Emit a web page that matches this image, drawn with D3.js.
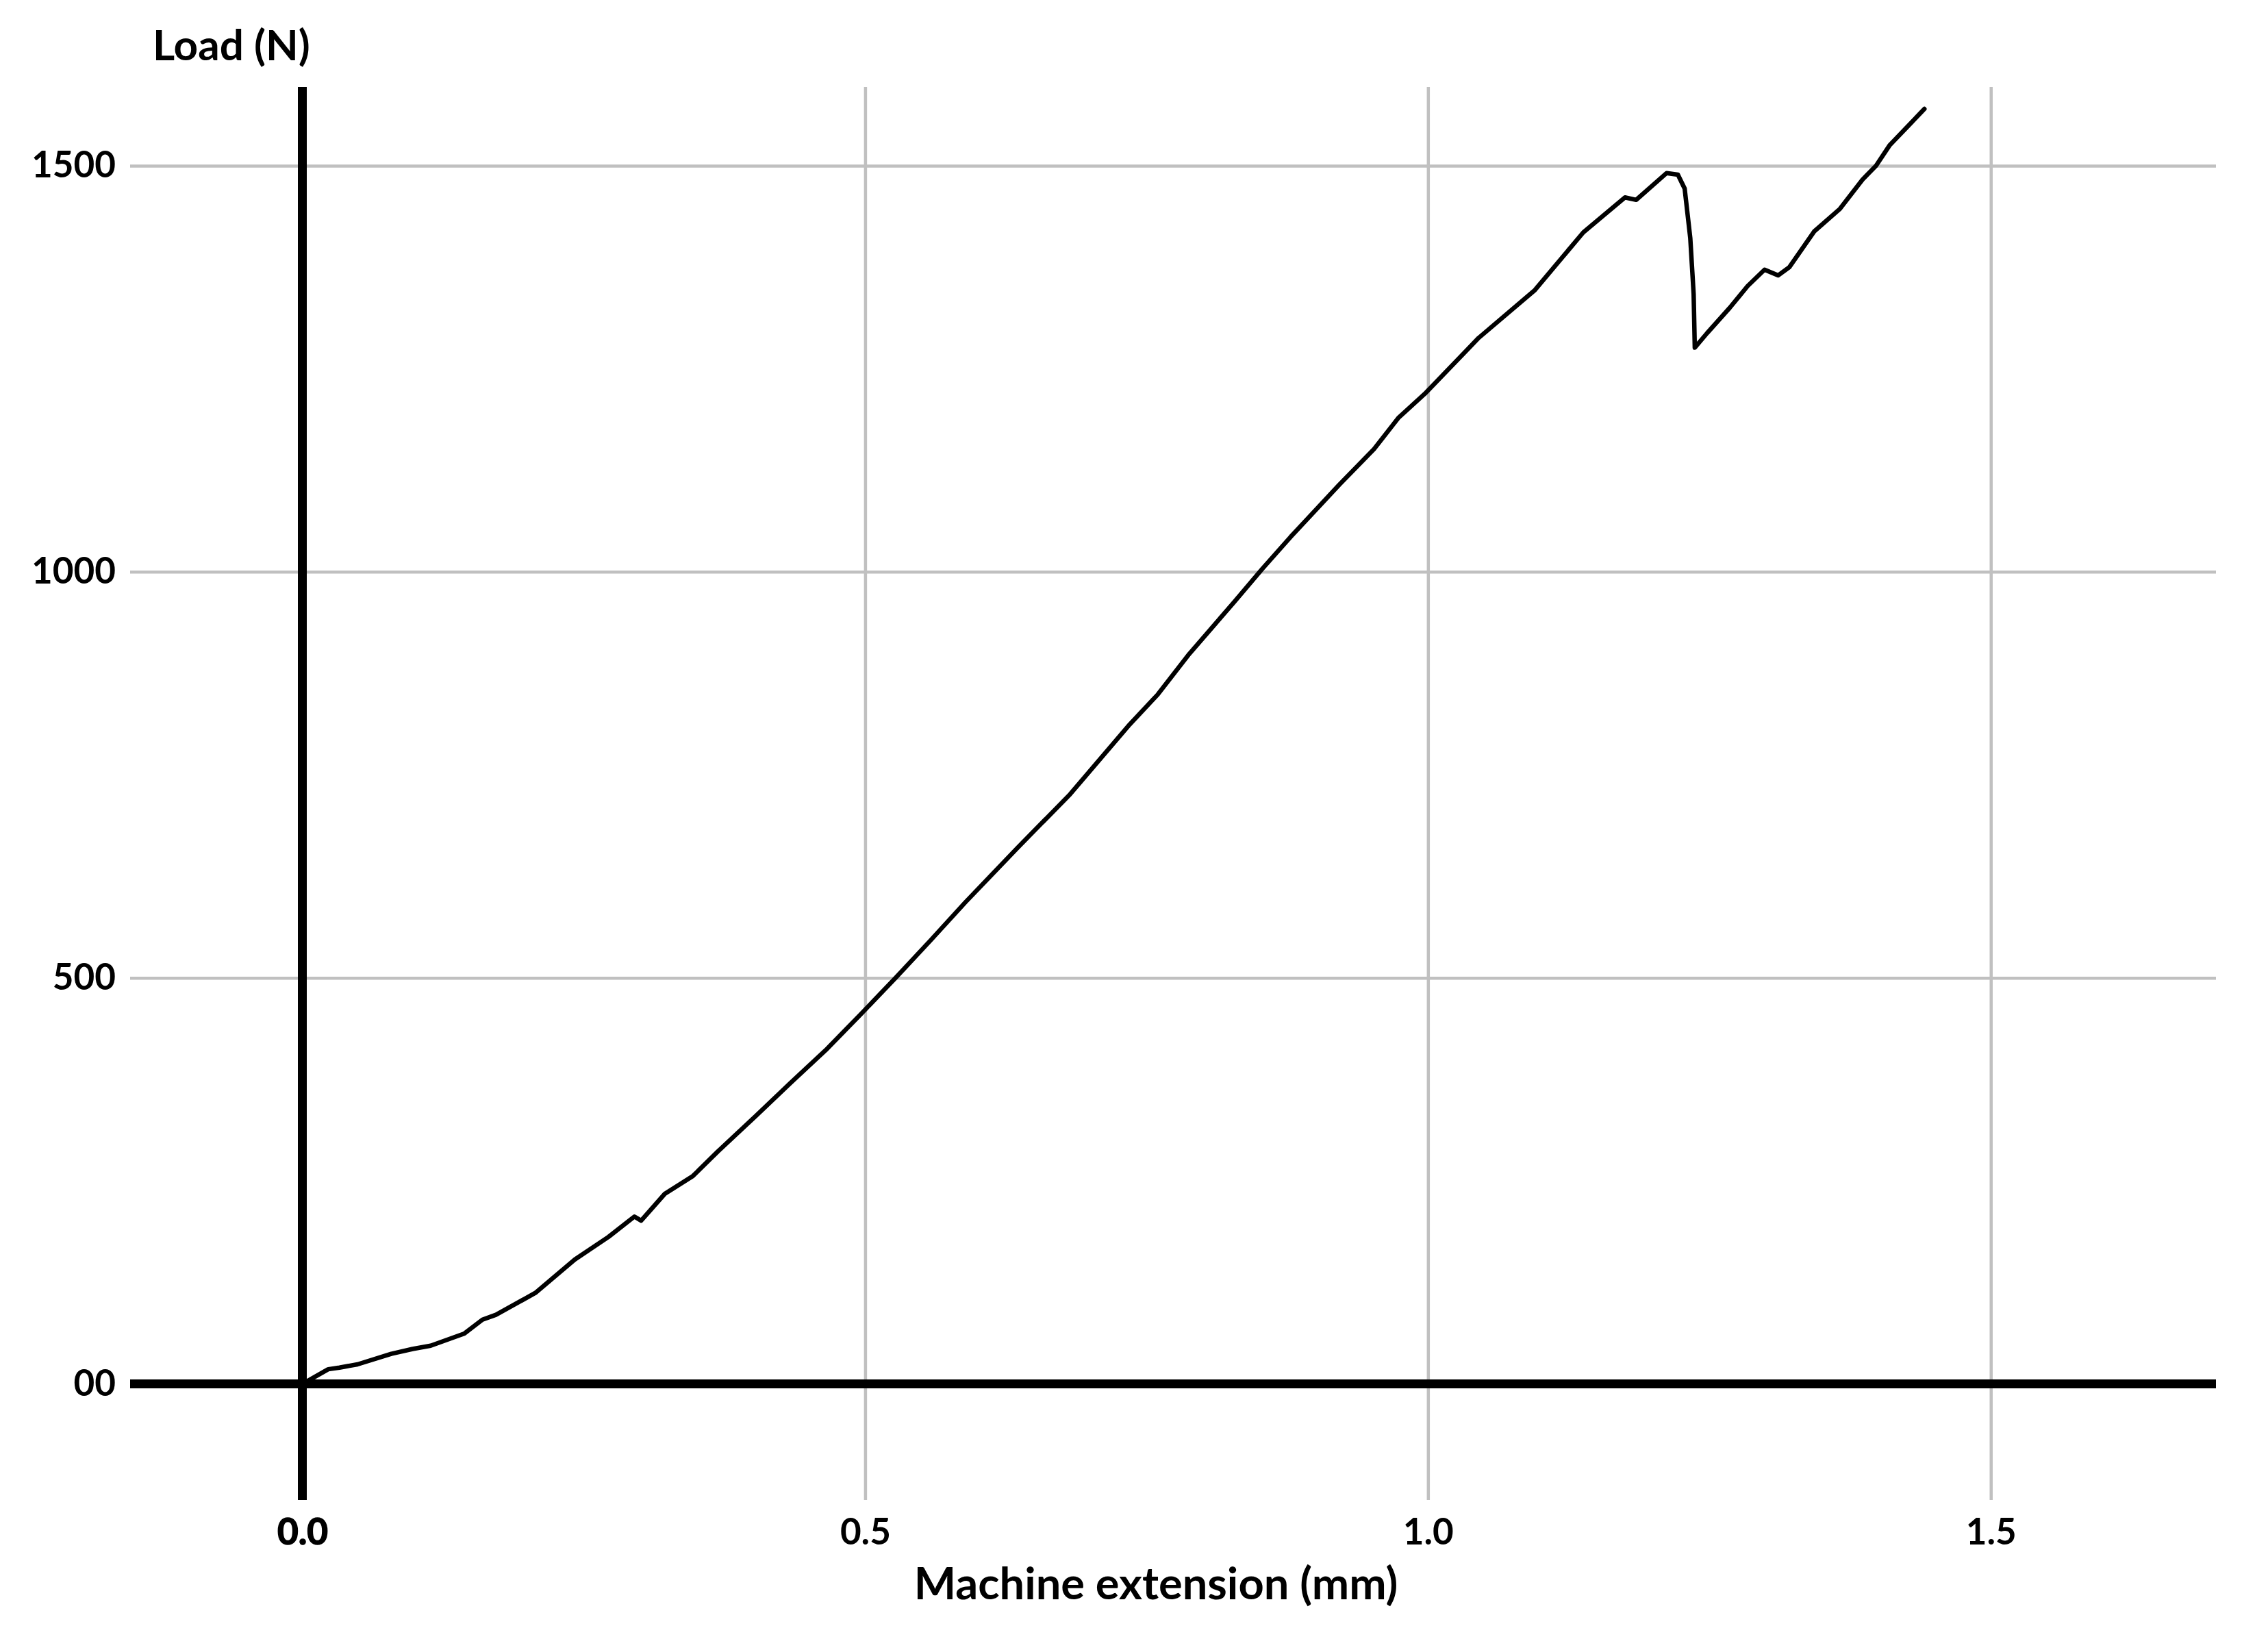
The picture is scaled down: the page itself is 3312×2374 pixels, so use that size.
<!DOCTYPE html>
<html>
<head>
<meta charset="utf-8">
<script src="https://cdn.jsdelivr.net/npm/d3@7"></script>
<style>
body { margin: 0; background: #fff; }
svg { display: block; font-family: Lato, "Open Sans", sans-serif; }
</style>
</head>
<body>
<svg id="chart"></svg>
<script>
// Load vs machine extension
var extension = [0, 0.004, 0.023, 0.033, 0.049, 0.079, 0.098, 0.114, 0.144, 0.160, 0.172, 0.207, 0.242, 0.272, 0.295, 0.301,
  0.322, 0.347, 0.369, 0.403, 0.434, 0.465, 0.496, 0.527, 0.558, 0.589, 0.636, 0.682, 0.735, 0.760, 0.788, 0.828,
  0.853, 0.878, 0.921, 0.952, 0.974, 0.997, 1.045, 1.095, 1.138, 1.175, 1.185, 1.212, 1.222, 1.228, 1.233, 1.236,
  1.237, 1.248, 1.268, 1.284, 1.299, 1.311, 1.321, 1.343, 1.366, 1.386, 1.398, 1.410, 1.441];
var load = [0, 3, 18, 20, 24, 37, 43, 47, 62, 79, 85, 112, 153, 181, 206, 201,
  234, 256, 286, 330, 371, 411, 455, 500, 546, 593, 661, 726, 812, 849, 899, 963,
  1004, 1043, 1107, 1151, 1190, 1219, 1288, 1347, 1418, 1461, 1458, 1491, 1489, 1472, 1411, 1342,
  1276, 1294, 1325, 1352, 1372, 1365, 1375, 1419, 1447, 1483, 1500, 1525, 1570];

var xTicks = [0, 0.5, 1.0, 1.5];
var xTickLabels = ["0.0", "0.5", "1.0", "1.5"];
var yTicks = [0, 500, 1000, 1500];
var yTickLabels = ["00", "500", "1000", "1500"];

var W = 3312, H = 2374;
var plotLeft = 190, plotRight = 3236, plotTop = 127, plotBottom = 2190;

var svg = d3.select("#chart").attr("width", W).attr("height", H);
svg.append("rect").attr("width", W).attr("height", H).attr("fill", "#fff");

var x = d3.scaleLinear().domain([-0.153, 1.70]).range([plotLeft, plotRight]);
var y = d3.scaleLinear().domain([-143, 1597]).range([plotBottom, plotTop]);

// gridlines
var gx = svg.append("g")
  .attr("transform", "translate(0," + plotBottom + ")")
  .call(d3.axisBottom(x).tickValues(xTicks.slice(1)).tickSize(-(plotBottom - plotTop)).tickFormat(""));
gx.select(".domain").remove();
gx.selectAll("line").attr("stroke", "#c0c0c0").attr("stroke-width", 4.5);

var gy = svg.append("g")
  .attr("transform", "translate(" + plotLeft + ",0)")
  .call(d3.axisLeft(y).tickValues(yTicks.slice(1)).tickSize(-(plotRight - plotLeft)).tickFormat(""));
gy.select(".domain").remove();
gy.selectAll("line").attr("stroke", "#c0c0c0").attr("stroke-width", 4.5);

// zero lines
svg.append("line")
  .attr("x1", plotLeft).attr("x2", plotRight)
  .attr("y1", y(0)).attr("y2", y(0))
  .attr("stroke", "#000").attr("stroke-width", 13);
svg.append("line")
  .attr("x1", x(0)).attr("x2", x(0))
  .attr("y1", plotTop).attr("y2", plotBottom)
  .attr("stroke", "#000").attr("stroke-width", 13);

// tick labels
var xl = svg.append("g")
  .attr("transform", "translate(0," + plotBottom + ")")
  .call(d3.axisBottom(x).tickValues(xTicks).tickSize(0).tickPadding(27)
    .tickFormat(function(d, i){ return xTickLabels[i]; }));
xl.select(".domain").remove();
xl.selectAll("text").attr("font-family", "Lato, sans-serif").attr("font-size", 53)
  .attr("font-weight", 700).attr("fill", "#000");
xl.selectAll("text").filter(function(d){ return d === 0; })
  .attr("stroke", "#000").attr("stroke-width", 1.5);

var yl = svg.append("g")
  .attr("transform", "translate(" + x(0) + ",0)")
  .call(d3.axisLeft(y).tickValues(yTicks).tickSize(0).tickPadding(x(0) - 169)
    .tickFormat(function(d, i){ return yTickLabels[i]; }));
yl.select(".domain").remove();
yl.selectAll("text").attr("font-family", "Lato, sans-serif").attr("font-size", 53)
  .attr("font-weight", 700).attr("fill", "#000");

// curve
var pts = extension.map(function(d, i){ return [d, load[i]]; });
var line = d3.line()
  .x(function(d){ return x(d[0]); })
  .y(function(d){ return y(d[1]); });
svg.append("path")
  .datum(pts)
  .attr("d", line)
  .attr("fill", "none")
  .attr("stroke", "#000")
  .attr("stroke-width", 6.5)
  .attr("stroke-linejoin", "round")
  .attr("stroke-linecap", "round");

// axis titles
svg.append("text")
  .attr("x", 223).attr("y", 88)
  .attr("font-size", 62).attr("font-weight", 700)
  .text("Load (N)");
svg.append("text")
  .attr("x", 1688).attr("y", 2335)
  .attr("text-anchor", "middle")
  .attr("font-size", 65).attr("font-weight", 700)
  .text("Machine extension (mm)");
</script>
</body>
</html>
